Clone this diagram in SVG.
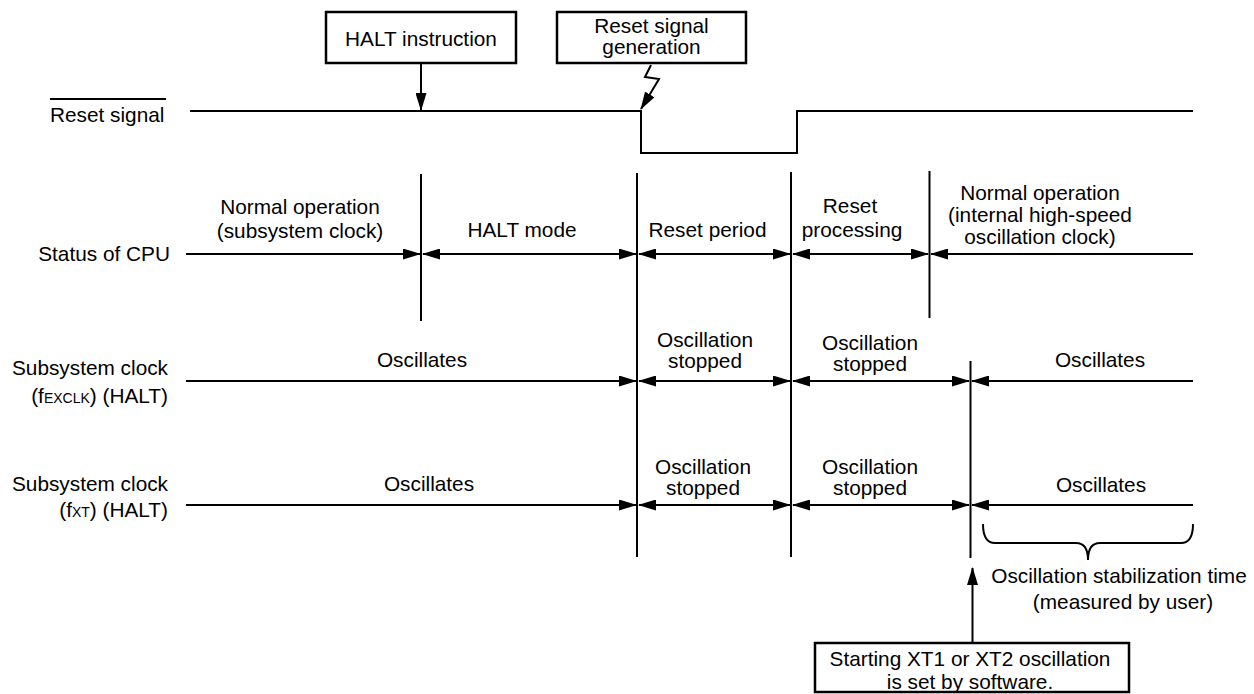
<svg xmlns="http://www.w3.org/2000/svg" width="1254" height="694" viewBox="0 0 1254 694">
  <style>
    text { font-family: "Liberation Sans", Arial, Helvetica, sans-serif; font-size: 20.8px; fill: #000; }
    .c { text-anchor: middle; }
    .r { text-anchor: end; }
    .sub { font-size: 14px; }
    .ln { stroke: #000; stroke-width: 2; fill: none; }
    .box { stroke: #000; stroke-width: 2.5; fill: #fff; }
    .a-end { marker-end: url(#ah); }
    .a-start { marker-start: url(#ah); }
    .a-both { marker-start: url(#ah); marker-end: url(#ah); }
  </style>
  <defs>
    <marker id="ah" markerUnits="userSpaceOnUse" markerWidth="18" markerHeight="11" refX="17" refY="5.5" orient="auto-start-reverse">
      <path d="M0,0 L18,5.5 L0,11 z" fill="#000"/>
    </marker>
  </defs>
  <rect width="1254" height="694" fill="#fff"/>

  <!-- Signal names on the left -->
  <g id="row-labels">
    <text x="50" y="122">Reset signal</text>
    <line class="ln" x1="50" y1="99" x2="166" y2="99"/>
    <text class="r" x="170" y="261">Status of CPU</text>
    <text class="r" x="168" y="375">Subsystem clock</text>
    <text class="r" x="168" y="403">(f<tspan class="sub">EXCLK</tspan>) (HALT)</text>
    <text class="r" x="168" y="491">Subsystem clock</text>
    <text class="r" x="168" y="517">(f<tspan class="sub">XT</tspan>) (HALT)</text>
  </g>

  <!-- Reset waveform -->
  <g id="reset-wave">
    <polyline class="ln" points="190,111 641,111 641,153 797,153 797,111 1193,111"/>
  </g>

  <!-- Event boxes -->
  <g id="halt-instruction">
    <rect class="box" x="326" y="12" width="190" height="51"/>
    <text class="c" x="421" y="46">HALT instruction</text>
  </g>
  <g id="reset-generation">
    <rect class="box" x="557" y="12" width="189" height="51"/>
    <text class="c" x="651.5" y="33">Reset signal</text>
    <text class="c" x="651.5" y="54">generation</text>
  </g>
  <g id="xt-start">
    <rect class="box" x="815" y="643" width="314" height="49"/>
    <text class="c" x="970" y="666">Starting XT1 or XT2 oscillation</text>
    <text class="c" x="970" y="689">is set by software.</text>
  </g>

  <!-- Boundary lines between phases -->
  <g id="boundaries">
    <line class="ln" x1="421" y1="174" x2="421" y2="321"/>
    <line class="ln" x1="637" y1="173" x2="637" y2="557"/>
    <line class="ln" x1="791" y1="172" x2="791" y2="557"/>
    <line class="ln" x1="929.5" y1="171" x2="929.5" y2="318"/>
    <line class="ln" x1="970.5" y1="361" x2="970.5" y2="558"/>
  </g>

  <!-- Arrows and interval markers -->
  <g id="connectors">
    <line class="ln a-end" x1="421" y1="63" x2="421" y2="110"/>
    <polyline class="ln a-end" points="651,65 645,77 659,79 641,109"/>
    <line class="ln a-end" x1="972.5" y1="643" x2="972.5" y2="568"/>

    <!-- Status of CPU -->
    <line class="ln a-end" x1="186" y1="254" x2="420" y2="254"/>
    <line class="ln a-both" x1="423" y1="254" x2="636" y2="254"/>
    <line class="ln a-both" x1="639" y1="254" x2="790" y2="254"/>
    <line class="ln a-both" x1="793" y1="254" x2="928" y2="254"/>
    <line class="ln a-start" x1="931" y1="254" x2="1193" y2="254"/>

    <!-- Subsystem clock (fEXCLK) -->
    <line class="ln a-end" x1="186" y1="381" x2="636" y2="381"/>
    <line class="ln a-both" x1="639" y1="381" x2="790" y2="381"/>
    <line class="ln a-both" x1="793" y1="381" x2="969" y2="381"/>
    <line class="ln a-start" x1="972" y1="381" x2="1193" y2="381"/>

    <!-- Subsystem clock (fXT) -->
    <line class="ln a-end" x1="186" y1="505" x2="636" y2="505"/>
    <line class="ln a-both" x1="639" y1="505" x2="790" y2="505"/>
    <line class="ln a-both" x1="793" y1="505" x2="969" y2="505"/>
    <line class="ln a-start" x1="972" y1="505" x2="1193" y2="505"/>

    <!-- Stabilization brace -->
    <path class="ln" d="M983,524 Q983,543 995,543 L1076,543 Q1088,543 1088,560 Q1088,543 1100,543 L1181,543 Q1193,543 1193,524"/>
  </g>

  <!-- Interval labels -->
  <g id="cpu-labels">
    <text class="c" x="300" y="214">Normal operation</text>
    <text class="c" x="300" y="238">(subsystem clock)</text>
    <text class="c" x="522" y="237">HALT mode</text>
    <text class="c" x="707.5" y="237">Reset period</text>
    <text class="c" x="850" y="213">Reset</text>
    <text class="c" x="852" y="237">processing</text>
    <text class="c" x="1040" y="200">Normal operation</text>
    <text class="c" x="1040" y="222">(internal high-speed</text>
    <text class="c" x="1040" y="244">oscillation clock)</text>
  </g>
  <g id="exclk-labels">
    <text class="c" x="422" y="367">Oscillates</text>
    <text class="c" x="705" y="347">Oscillation</text>
    <text class="c" x="705" y="368">stopped</text>
    <text class="c" x="870" y="350">Oscillation</text>
    <text class="c" x="870" y="371">stopped</text>
    <text class="c" x="1100" y="367">Oscillates</text>
  </g>
  <g id="xt-labels">
    <text class="c" x="429" y="491">Oscillates</text>
    <text class="c" x="703" y="474">Oscillation</text>
    <text class="c" x="703" y="495">stopped</text>
    <text class="c" x="870" y="474">Oscillation</text>
    <text class="c" x="870" y="495">stopped</text>
    <text class="c" x="1101" y="492">Oscillates</text>
  </g>
  <g id="stabilization-note">
    <text class="c" x="1119" y="583">Oscillation stabilization time</text>
    <text class="c" x="1123" y="609">(measured by user)</text>
  </g>
</svg>
